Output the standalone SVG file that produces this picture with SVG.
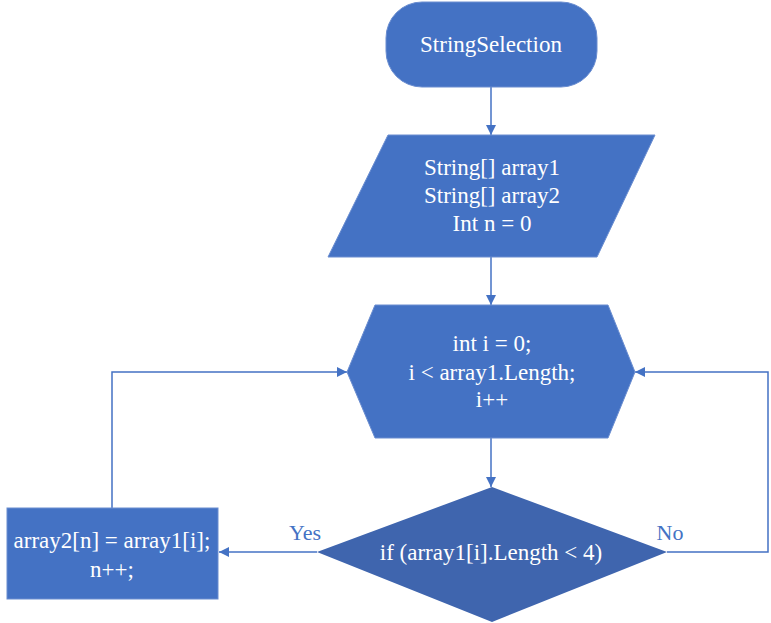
<svg xmlns="http://www.w3.org/2000/svg" width="771" height="623" viewBox="0 0 771 623">
<defs>
<marker id="arr" viewBox="0 0 10 10" refX="10" refY="5" markerWidth="10" markerHeight="10" orient="auto-start-reverse" markerUnits="userSpaceOnUse">
<path d="M0,0 L10,5 L0,10 Z" fill="#4472C4"/>
</marker>
<style>
.shape{fill:#4472C4;stroke:#6A8DD0;stroke-width:1}
.dia{fill:#3F65AE;stroke:none}
.t{font-family:'Liberation Serif','Times New Roman',serif;font-size:23px;fill:#FFFFFF;text-anchor:middle}
.lbl{font-family:'Liberation Serif','Times New Roman',serif;font-size:22px;fill:#4472C4;text-anchor:middle}
.c{fill:none;stroke:#4472C4;stroke-width:1.5}
</style>
</defs>
<rect width="771" height="623" fill="#FFFFFF"/>
<g id="connectors">
<path class="c" d="M491,87 V135" marker-end="url(#arr)"/>
<path class="c" d="M491,257 V305" marker-end="url(#arr)"/>
<path class="c" d="M491,438 V487" marker-end="url(#arr)"/>
<path class="c" d="M317,552 H219" marker-end="url(#arr)"/>
<path class="c" d="M112,508 V372 H347" marker-end="url(#arr)"/>
<path class="c" d="M667,552 H768 V372 H635" marker-end="url(#arr)"/>
<text class="lbl" x="305" y="540">Yes</text>
<text class="lbl" x="670" y="540">No</text>
</g>
<g id="start">
<rect class="shape" x="386" y="2" width="211" height="85" rx="36" ry="36"/>
<text class="t" x="491" y="52">StringSelection</text>
</g>
<g id="input">
<polygon class="shape" points="388,135 655,135 597,257 328,257"/>
<text class="t" x="492" y="175">String[] array1</text>
<text class="t" x="492" y="203">String[] array2</text>
<text class="t" x="492" y="231">Int n = 0</text>
</g>
<g id="loop">
<polygon class="shape" points="375,305 608,305 635,372 608,438 375,438 347,372"/>
<text class="t" x="492" y="351">int i = 0;</text>
<text class="t" x="492" y="380">i &lt; array1.Length;</text>
<text class="t" x="492" y="407">i++</text>
</g>
<g id="decision">
<polygon class="dia" points="492,487 667,552 492,622 317,552"/>
<text class="t" x="491" y="560">if (array1[i].Length &lt; 4)</text>
</g>
<g id="assign">
<rect class="shape" x="7" y="508" width="211" height="91"/>
<text class="t" x="112" y="548">array2[n] = array1[i];</text>
<text class="t" x="112" y="577">n++;</text>
</g>
</svg>
